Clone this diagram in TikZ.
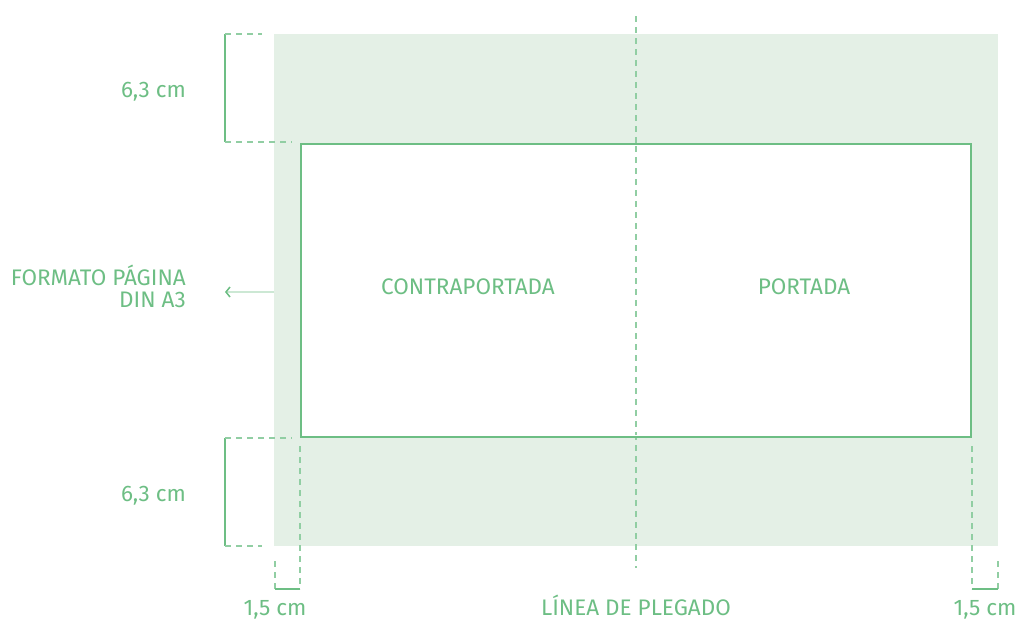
\documentclass[tikz,border=0pt]{standalone}
\usepackage{fontspec}
\setmainfont{Fira Sans}
\begin{document}
\begin{tikzpicture}[x=1pt,y=-1pt,
  txt/.style={text=gr, font=\fontsize{22.5}{22}\selectfont, inner sep=0pt},
  dsh/.style={draw=gr!75, line width=1.2pt, dash pattern=on 6pt off 5pt},
  sol/.style={draw=gr, line width=2pt},
]
\definecolor{gr}{HTML}{6DBE84}
\definecolor{bgg}{HTML}{E4F0E6}
\useasboundingbox (0,0) rectangle (1018,621);
% shaded page
\fill[bgg] (274,34) rectangle (998,546);
% fold line
\coordinate (ft) at (636,16);
\coordinate (fb) at (636,568);
\draw[dsh] (ft) -- (fb);
% inner rectangle
\draw[sol, fill=white] (301,144) rectangle (971,437);
\draw[dsh] (636,146) -- (636,435);
% top bracket
\coordinate (t1) at (225,34);
\coordinate (t2) at (225,142);
\draw[sol] (t1) -- (t2);
\draw[dsh] (t1) -- (262,34);
\draw[dsh] (t2) -- (292,142);
% bottom bracket
\coordinate (b1) at (225,438);
\coordinate (b2) at (225,546);
\draw[sol] (b1) -- (b2);
\draw[dsh] (b1) -- (292,438);
\draw[dsh] (b2) -- (262,546);
% bottom left
\coordinate (bl1) at (275,589);
\coordinate (bl2) at (300,589);
\draw[dsh] (300,446) -- (bl2);
\draw[dsh] (275,561) -- (bl1);
\draw[sol] (bl1) -- (bl2);
% bottom right
\coordinate (br1) at (972,589);
\coordinate (br2) at (998,589);
\draw[dsh] (972,446) -- (br1);
\draw[dsh] (998,561) -- (br2);
\draw[sol] (br1) -- (br2);
% arrow
\coordinate (a1) at (274,292);
\coordinate (a2) at (226,292);
\draw[gr!35, line width=1.2pt] (a1) -- (a2);
\draw[gr, line width=1.5pt] (230,287) -- (226,292) -- (230,297);
% texts
\node[txt, anchor=base east] (h1) at (186,97) {6,3 cm};
\node[txt, anchor=base east] (h2) at (186,501) {6,3 cm};
\node[txt, anchor=base east] (fmt1) at (186,285) {FORMATO PÁGINA};
\node[txt, anchor=base east] (fmt2) at (186,307) {DIN A3};
\node[txt, anchor=base] (cp) at (468,294) {CONTRAPORTADA};
\node[txt, anchor=base] (pt) at (804,294) {PORTADA};
\node[txt, anchor=base] (w1) at (275,615) {1,5 cm};
\node[txt, anchor=base] (lp) at (636,615) {LÍNEA DE PLEGADO};
\node[txt, anchor=base] (w2) at (985,615) {1,5 cm};
\end{tikzpicture}
\end{document}
